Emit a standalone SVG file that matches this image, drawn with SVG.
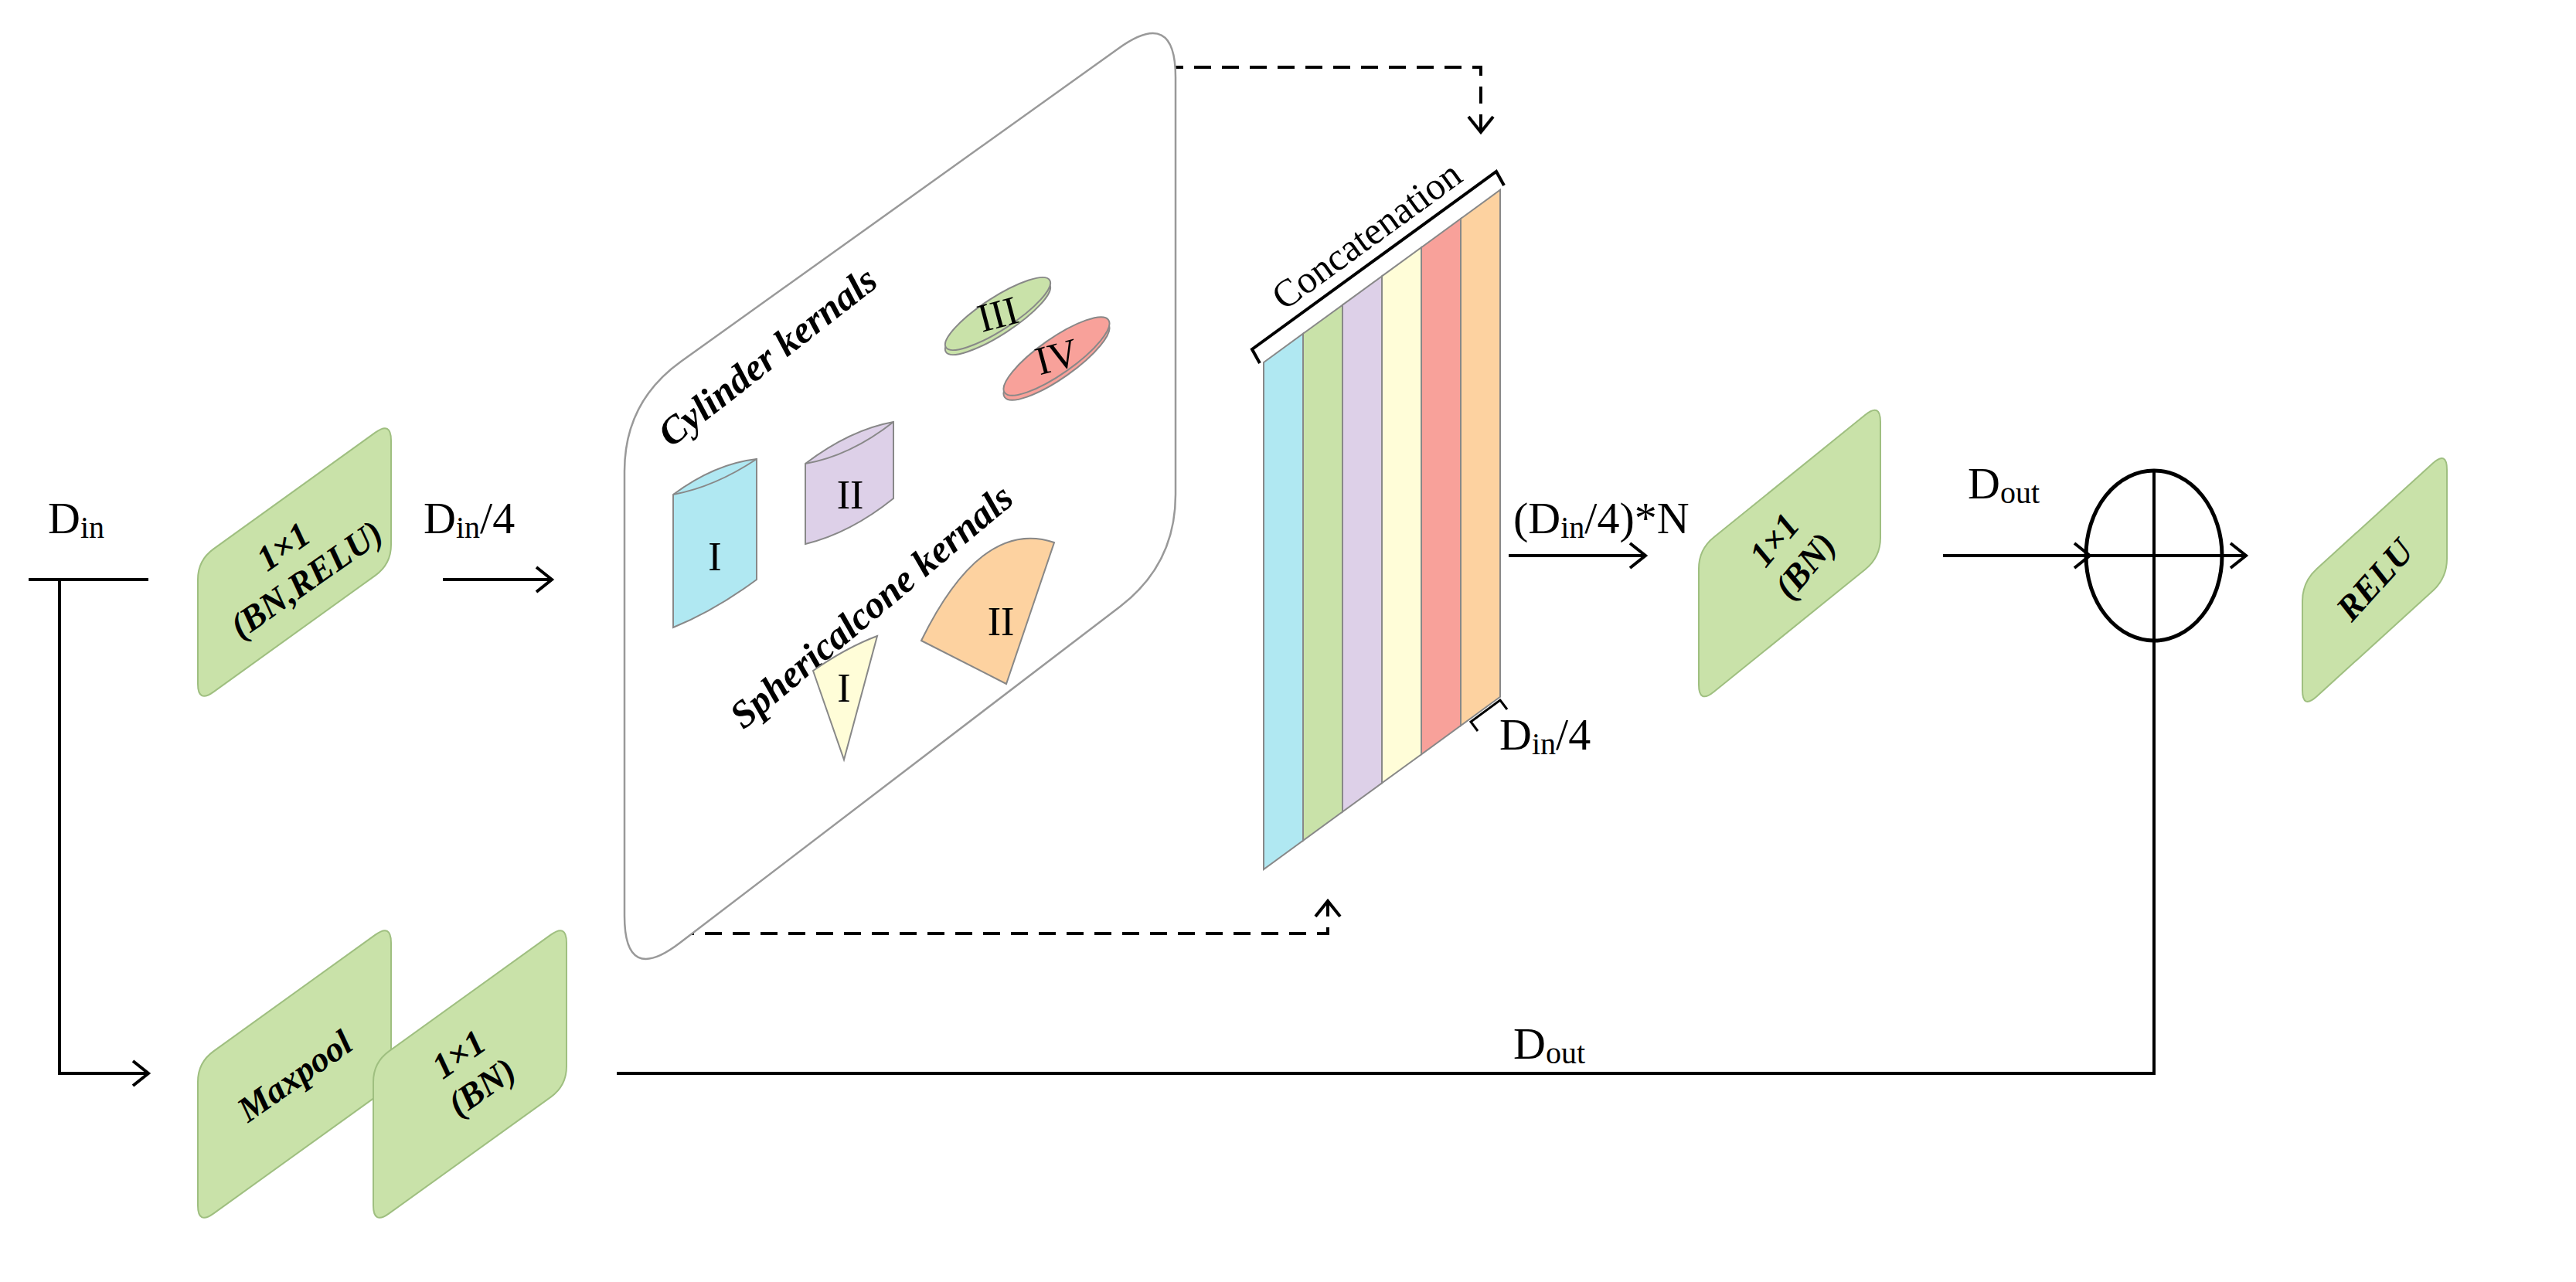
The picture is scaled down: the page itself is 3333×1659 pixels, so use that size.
<svg xmlns="http://www.w3.org/2000/svg" width="3333" height="1659" viewBox="0 0 3333 1659">
<defs>
<style>
.node{fill:#c9e2a9;stroke:#9fbf80;stroke-width:2}
.ln{fill:none;stroke:#000;stroke-width:4}
.dash{fill:none;stroke:#000;stroke-width:4;stroke-dasharray:22 14}
.lbl{font-family:"Liberation Serif",serif;font-size:58px;fill:#000}
.sub{font-size:40px}
.nt{font-family:"Liberation Serif",serif;font-size:46px;font-weight:bold;font-style:italic;text-anchor:middle;fill:#000}
.k{font-family:"Liberation Serif",serif;font-size:50px;font-weight:bold;font-style:italic;fill:#000}
.rn{font-family:"Liberation Serif",serif;font-size:52px;text-anchor:middle;fill:#000}
.sh{stroke:#888;stroke-width:2}
</style>
<marker id="ar2" markerWidth="40" markerHeight="40" refX="36" refY="20" orient="auto" markerUnits="userSpaceOnUse" viewBox="0 0 40 40">
<path d="M16,4 L36,20 L16,36" fill="none" stroke="#000" stroke-width="4"/>
</marker>
</defs>
<rect width="3333" height="1659" fill="#fff"/>

<g id="connectors">
<path class="ln" d="M37,750 H192"/>
<path class="ln" d="M77,750 V1389 H192" marker-end="url(#ar2)"/>
<path class="ln" d="M573,750 H714" marker-end="url(#ar2)"/>
<path class="dash" d="M1473,87 H1916 V171" marker-end="url(#ar2)"/>
<path class="dash" d="M840,1208 H1718 V1166" marker-end="url(#ar2)"/>
<path class="ln" d="M1952,719 H2129" marker-end="url(#ar2)"/>
<path class="ln" d="M2514,719 H2704" marker-end="url(#ar2)"/>
<path class="ln" d="M2700,719 H2906" marker-end="url(#ar2)"/>
<path class="ln" d="M798,1389 H2787 V609"/>
</g>

<g id="labels">
<text class="lbl" x="62" y="690">D<tspan class="sub" dy="6">in</tspan></text>
<text class="lbl" x="548" y="690">D<tspan class="sub" dy="6">in</tspan><tspan dy="-6">/4</tspan></text>
<text class="lbl" x="1958" y="690">(D<tspan class="sub" dy="6">in</tspan><tspan dy="-6">/4)*N</tspan></text>
<text class="lbl" x="2546" y="645">D<tspan class="sub" dy="6">out</tspan></text>
<text class="lbl" x="1958" y="1370">D<tspan class="sub" dy="6">out</tspan></text>
<text class="lbl" x="1940" y="970">D<tspan class="sub" dy="6">in</tspan><tspan dy="-6">/4</tspan></text>
</g>

<g id="n-conv1">
<path class="node" d="M256,750 Q256,725 276.3,710.4 L485.7,559.6 Q506,545 506,570 L506,705 Q506,730 485.7,744.6 L276.3,895.4 Q256,910 256,885 Z"/>
<g transform="translate(381,728) rotate(-35)"><text class="nt" y="-10">1×1</text><text class="nt" y="42">(BN,RELU)</text></g>
</g>
<g id="n-maxpool">
<path class="node" d="M256,1400 Q256,1375 276.3,1360.4 L485.7,1209.6 Q506,1195 506,1220 L506,1380 Q506,1405 485.7,1419.6 L276.3,1570.4 Q256,1585 256,1560 Z"/>
<text class="nt" transform="translate(381,1392) rotate(-35)" y="16">Maxpool</text>
</g>
<g id="n-bn1">
<path class="node" transform="translate(227,0)" d="M256,1400 Q256,1375 276.3,1360.4 L485.7,1209.6 Q506,1195 506,1220 L506,1380 Q506,1405 485.7,1419.6 L276.3,1570.4 Q256,1585 256,1560 Z"/>
<g transform="translate(608,1385) rotate(-35)"><text class="nt" y="-10">1×1</text><text class="nt" y="42">(BN)</text></g>
</g>

<g id="panel">
<path fill="#fff" stroke="#999" stroke-width="2.5" d="M808,610 Q808,520 881.2,467.7 L1447.8,62.3 Q1521,10 1521,100 L1521,640 Q1521,730 1449.5,784.7 L879.5,1220.3 Q808,1275 808,1185 Z"/>
<text class="k" transform="translate(868,580) rotate(-38)">Cylinder  kernals</text>
<path fill="#b0e8f2" class="sh" d="M871,640 L871,812 Q925,790 979,750 L979,594 Q925,600 871,640 Z"/>
<path fill="none" class="sh" d="M871,640 Q925,630 979,594"/>
<text class="rn" x="925" y="738">I</text>
<path fill="#ddd0e8" class="sh" d="M1042,600 L1042,704 Q1100,690 1156,645 L1156,546 Q1100,556 1042,600 Z"/>
<path fill="none" class="sh" d="M1042,600 Q1100,590 1156,546"/>
<text class="rn" x="1100" y="658">II</text>
<ellipse cx="1291" cy="412" rx="80" ry="21" transform="rotate(-33 1291 412)" fill="#c9e2a9" class="sh"/>
<ellipse cx="1291" cy="406" rx="80" ry="21" transform="rotate(-33 1291 406)" fill="#c9e2a9" class="sh"/>
<text class="rn" x="1291" y="424" transform="rotate(-15 1291 406)">III</text>
<ellipse cx="1367" cy="467" rx="82" ry="23" transform="rotate(-35 1367 467)" fill="#f8a19a" class="sh"/>
<ellipse cx="1367" cy="461" rx="82" ry="23" transform="rotate(-35 1367 461)" fill="#f8a19a" class="sh"/>
<text class="rn" x="1367" y="479" transform="rotate(-15 1367 461)">IV</text>
<text class="k" transform="translate(962,945) rotate(-40)">Sphericalcone kernals</text>
<path fill="#fdd2a0" class="sh" d="M1192,829 L1302,885 L1364,702 Q1270,670 1192,829 Z"/>
<text class="rn" x="1295" y="822">II</text>
<path fill="#fffdd8" class="sh" d="M1052,868 Q1095,838 1135,823 L1092,983 Z"/>
<text class="rn" x="1092" y="908">I</text>
</g>

<g id="concat">
<path fill="#b0e8f2" class="sh" d="M1635,469 L1686,431.8 L1686,1087.8 L1635,1125 Z"/>
<path fill="#c9e2a9" class="sh" d="M1686,431.8 L1737,394.6 L1737,1050.6 L1686,1087.8 Z"/>
<path fill="#ddd0e8" class="sh" d="M1737,394.6 L1788,357.4 L1788,1013.4 L1737,1050.6 Z"/>
<path fill="#fffdd8" class="sh" d="M1788,357.4 L1839,320.2 L1839,976.2 L1788,1013.4 Z"/>
<path fill="#f8a19a" class="sh" d="M1839,320.2 L1890,283 L1890,939 L1839,976.2 Z"/>
<path fill="#fdd2a0" class="sh" d="M1890,283 L1941,245.8 L1941,901.8 L1890,939 Z"/>
<path class="ln" d="M1630,470 L1620,452 L1936,222 L1946,240"/>
<text transform="translate(1778,318) rotate(-36)" style="font-family:'Liberation Serif',serif;font-size:50px;text-anchor:middle">Concatenation</text>
<path fill="none" stroke="#000" stroke-width="3" d="M1912,946 L1903,934 L1941,906 L1950,918"/>
</g>

<g id="n-bn2">
<path class="node" d="M2198,736 Q2198,711 2217.5,695.3 L2413.5,536.7 Q2433,521 2433,546 L2433,696 Q2433,721 2413.5,736.7 L2217.5,895.3 Q2198,911 2198,886 Z"/>
<g transform="translate(2315,715) rotate(-50)"><text class="nt" y="-10">1×1</text><text class="nt" y="42">(BN)</text></g>
</g>

<g id="add">
<ellipse cx="2787" cy="719" rx="88" ry="110" fill="none" stroke="#000" stroke-width="5"/>
<path class="ln" d="M2787,609 V829"/>
</g>

<g id="n-relu">
<path class="node" d="M2979,778 Q2979,753 2997.5,736.2 L3147.5,599.8 Q3166,583 3166,608 L3166,723 Q3166,748 3147.5,764.8 L2997.5,901.2 Q2979,918 2979,893 Z"/>
<text class="nt" transform="translate(3072,750) rotate(-48)" y="16">RELU</text>
</g>
</svg>
